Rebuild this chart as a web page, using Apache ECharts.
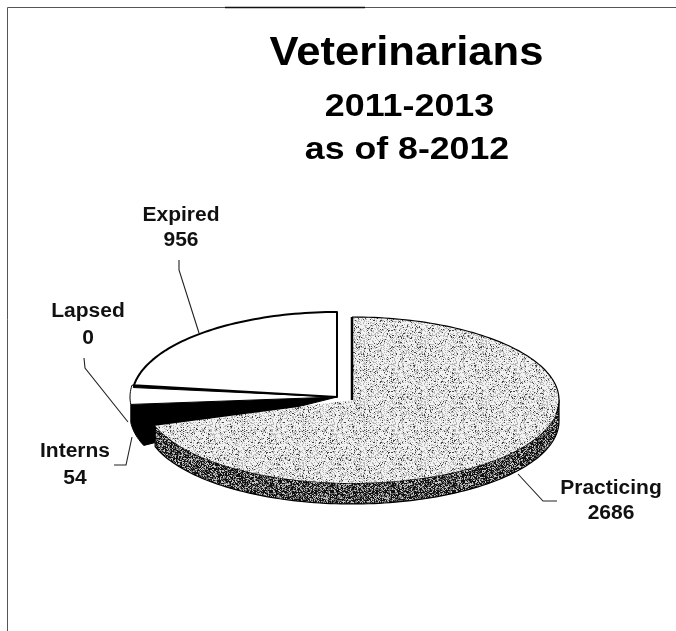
<!DOCTYPE html>
<html><head><meta charset="utf-8">
<style>html,body{margin:0;padding:0;background:#fff}#c{width:676px;height:631px}</style>
<script src="https://cdn.jsdelivr.net/npm/echarts@6/dist/echarts.min.js"></script>
</head><body><div id="c"></div>
<script>
const titleLines = ['Veterinarians', '2011-2013', 'as of 8-2012'];
const categories = ['Practicing', 'Interns', 'Lapsed', 'Expired'];
const values = [2686, 54, 0, 956];
// The drawing is a tilted 3-D pie: its visible boundaries (degrees clockwise from top).
const visibleAngleAfter = [252, 278, 278, 360];

const FONT = '"Liberation Sans", Arial, sans-serif';
const rad = d => d * Math.PI / 180;
function rim(c, deg, dy) {
  return [c.x + c.a * Math.sin(rad(deg)), c.y - c.b * Math.cos(rad(deg)) + (dy || 0)];
}
function arc(c, d0, d1, dy) {
  const n = Math.max(2, Math.ceil(Math.abs(d1 - d0) / 1.5)), out = [];
  for (let i = 0; i <= n; i++) out.push(rim(c, d0 + (d1 - d0) * i / n, dy));
  return out;
}
function stipple(size, dark, mid, light, pDark, pMid) {
  const cv = document.createElement('canvas');
  cv.width = cv.height = size;
  const g = cv.getContext('2d');
  for (let y = 0; y < size; y++) for (let x = 0; x < size; x++) {
    const h = (((x * 73) ^ (y * 151) ^ (x * y * 29)) >>> 0) % 100;
    g.fillStyle = h < pDark ? dark : h < pDark + pMid ? mid : light;
    g.fillRect(x, y, 1, 1);
  }
  return cv;
}
const topFill = { image: stipple(61, '#444444', '#b8b8b8', '#f2f2f2', 9, 30), repeat: 'repeat' };
const wallFill = { image: stipple(61, '#111111', '#6a6a6a', '#c4c4c4', 48, 32), repeat: 'repeat' };

const mainPie = { x: 337, y: 397, a: 205, b: 85 };
const pulledPie = { x: 352, y: 400, a: 207, b: 83 };
const DEPTH = 21;

const leaders = {
  Practicing: [[557, 501], [543, 501], [518, 474]],
  Interns: [[114, 465], [126, 465], [132, 437]],
  Lapsed: [[84, 358], [85, 368], [128, 422]],
  Expired: [[179, 260], [179, 270], [199, 333]]
};
const labelAt = {
  Practicing: [611, 495, 520],
  Interns: [75, 458, 485],
  Lapsed: [88, 318, 345],
  Expired: [181, 222, 247]
};
const LABEL_STRETCH = 1.05, TITLE_STRETCH = [1.09, 1.12, 1.115];

function poly(points, fill, z2, stroke, lw) {
  return { type: 'polygon', shape: { points }, z2,
    style: { fill, stroke: stroke || null, lineWidth: lw === undefined ? 1.5 : lw, lineJoin: 'round' } };
}
function label(text, x, baseline, z2, stretch) {
  return { type: 'text', z2, x, y: baseline - 7, scaleX: stretch,
    style: { text, x: 0, y: 0, align: 'center', verticalAlign: 'middle', font: 'bold 20px ' + FONT, fill: '#111' } };
}
function renderItem(params) {
  const i = params.dataIndex, name = categories[i];
  const d0 = i ? visibleAngleAfter[i - 1] : 0, d1 = visibleAngleAfter[i];
  const kids = [];
  if (name === 'Practicing') {
    const c = pulledPie;
    kids.push(poly(arc(c, 90, d1).concat(arc(c, d1, 90, DEPTH)), wallFill, 20, '#000', 1.2));
    kids.push(poly([[c.x, c.y]].concat(arc(c, d0, d1)), topFill, 21, null));
    kids.push({ type: 'polyline', z2: 22, shape: { points: arc(c, 0, 100) }, style: { stroke: '#000', lineWidth: 1.2, fill: null } });
    kids.push({ type: 'polyline', z2: 22, shape: { points: [rim(c, 0), [c.x, c.y]] }, style: { stroke: '#000', lineWidth: 2.5, fill: null } });
  } else if (name === 'Interns') {
    const c = mainPie, split = d0 + (d1 - d0) * 0.5;
    const mid = { x: c.x, y: c.y, a: c.a + 2, b: c.b };
    kids.push(poly([[c.x, c.y], rim(mid, split)].concat(arc(mid, split, d0 - 3, DEPTH - 3)), '#000', 5, '#000', 1));
    kids.push(poly([[c.x, c.y]].concat(arc(mid, split, d1)), '#fff', 6, '#000', 1));
  } else if (name === 'Lapsed') {
    const c = mainPie;
    kids.push(poly([[c.x, c.y], rim(c, d1 - 1.6), rim(c, d1 + 0.6)], '#000', 7, '#000', 1));
  } else {
    const c = mainPie;
    kids.push(poly([[c.x, c.y]].concat(arc(c, d0, d1)), '#fff', 8, '#000', 2));
  }
  kids.push({ type: 'polyline', z2: 30, shape: { points: leaders[name] }, style: { stroke: '#222', lineWidth: 1.1, fill: null } });
  const [lx, y1, y2] = labelAt[name];
  kids.push(label(name, lx, y1, 31, LABEL_STRETCH));
  kids.push(label(String(values[i]), lx, y2, 31, LABEL_STRETCH));
  return { type: 'group', children: kids };
}
function titleText(i, x, y, size) {
  return { type: 'text', silent: true, x, y, scaleX: TITLE_STRETCH[i],
    style: { text: titleLines[i], x: 0, y: 0, align: 'center', verticalAlign: 'middle', font: 'bold ' + size + 'px ' + FONT, fill: '#000' } };
}

const chart = echarts.init(document.getElementById('c'), null, { renderer: 'canvas' });
chart.setOption({
  animation: false,
  backgroundColor: '#ffffff',
  graphic: [
    { type: 'polyline', silent: true, shape: { points: [[7.5, 631], [7.5, 7.5], [676, 7.5]] }, style: { stroke: '#555', lineWidth: 1, fill: null } },
    { type: 'line', silent: true, shape: { x1: 225, y1: 7.5, x2: 365, y2: 7.5 }, style: { stroke: '#111', lineWidth: 1.3 } },
    titleText(0, 406.5, 54, 40),
    titleText(1, 409.5, 107.5, 32),
    titleText(2, 407, 150, 32)
  ],
  series: [{
    type: 'custom',
    coordinateSystem: 'none',
    silent: true,
    clip: false,
    renderItem,
    data: categories.map((c, i) => ({ name: c, value: [values[i]] }))
  }]
});
</script></body></html>
